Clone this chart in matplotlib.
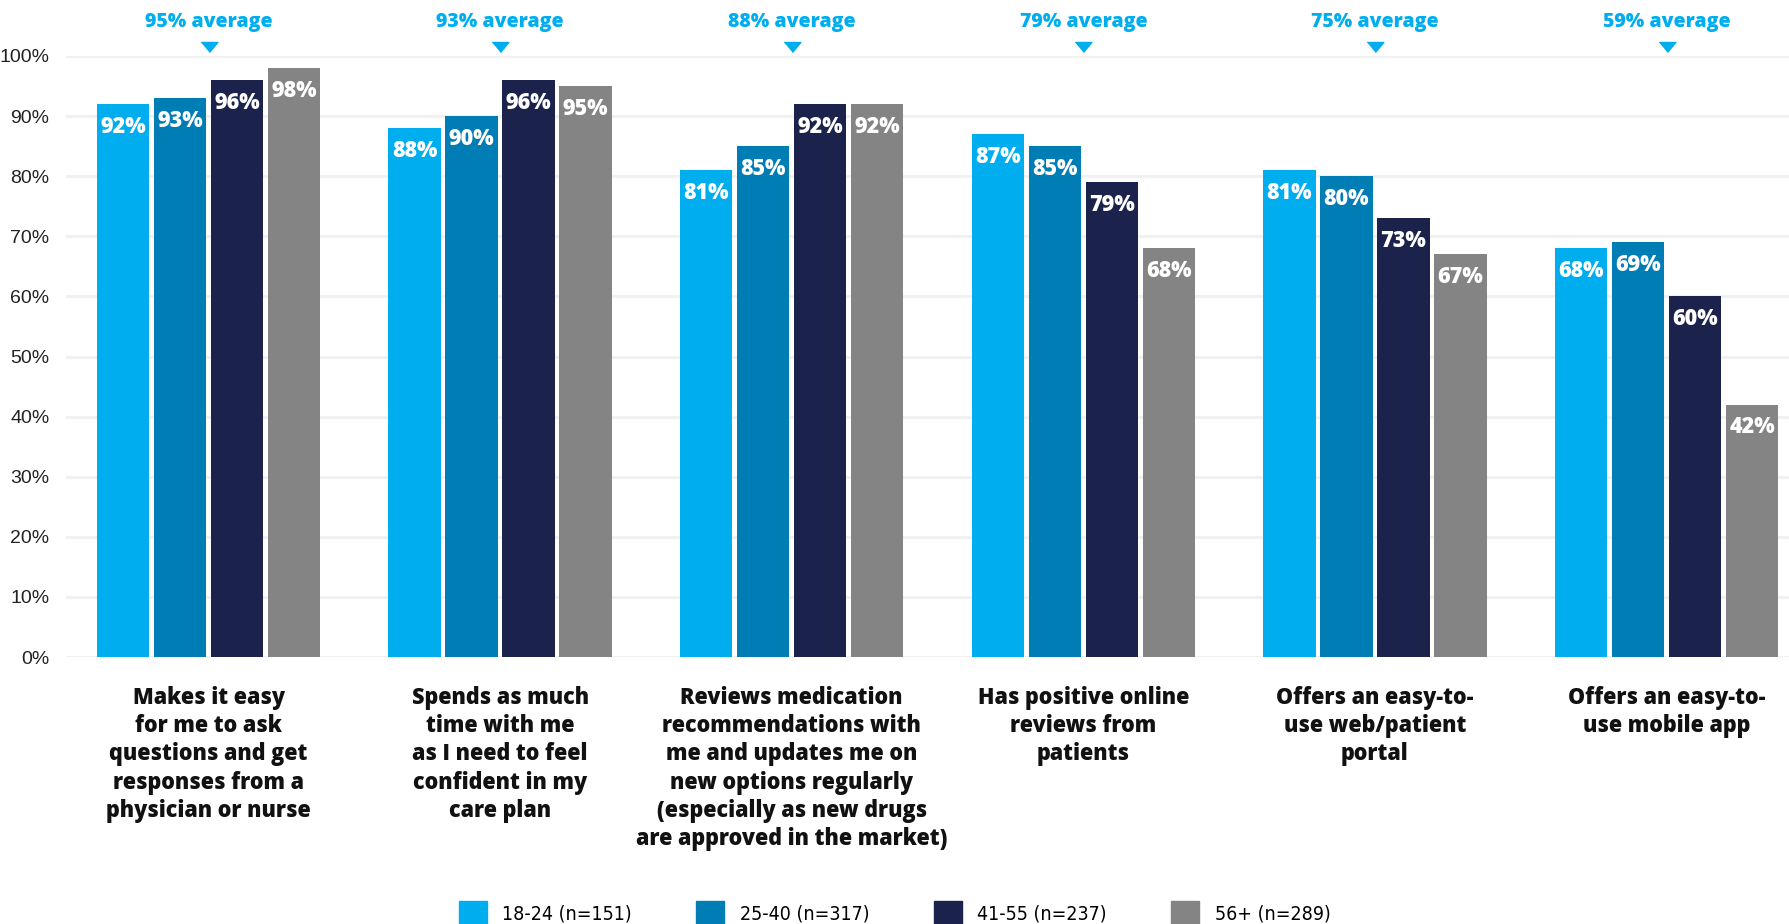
import numpy as np
import matplotlib.pyplot as plt
from matplotlib.patches import Patch

categories = [
    "Makes it easy\nfor me to ask\nquestions and get\nresponses from a\nphysician or nurse",
    "Spends as much\ntime with me\nas I need to feel\nconfident in my\ncare plan",
    "Reviews medication\nrecommendations with\nme and updates me on\nnew options regularly\n(especially as new drugs\nare approved in the market)",
    "Has positive online\nreviews from\npatients",
    "Offers an easy-to-\nuse web/patient\nportal",
    "Offers an easy-to-\nuse mobile app",
]
groups = ["18-24 (n=151)", "25-40 (n=317)", "41-55 (n=237)", "56+ (n=289)"]
age_18_24 = [92, 88, 81, 87, 81, 68]
age_25_40 = [93, 90, 85, 85, 80, 69]
age_41_55 = [96, 96, 92, 79, 73, 60]
age_56_up = [98, 95, 92, 68, 67, 42]
averages = [95, 93, 88, 79, 75, 59]

colors = ["#00AEEF", "#007DB5", "#1B224C", "#848484"]
bold_font = "Open Sans"

fig = plt.figure(figsize=(17.89, 9.24), dpi=100)
ax = fig.add_axes([66 / 1789, 1 - 657 / 924, 1 - 66 / 1789, (657 - 56) / 924])

x = np.arange(len(categories))
pitch = 0.1955
width = 0.18
series = [age_18_24, age_25_40, age_41_55, age_56_up]
for i, vals in enumerate(series):
    pos = x + (i - 1.5) * pitch
    bars = ax.bar(pos, vals, width, color=colors[i], zorder=2)
    for b, v in zip(bars, vals):
        ax.annotate(f"{v}%", (b.get_x() + b.get_width() / 2, v),
                    xytext=(0, -16.5), textcoords="offset points",
                    ha="center", va="center", color="white",
                    fontsize=15.5, fontweight="heavy", family=bold_font)

# average markers above each group
for xi, avg in zip(x, averages):
    ax.plot(xi, 101.5, marker=[(-1, 0.6), (1, 0.6), (0, -0.6)], ms=12,
            color="#00AEEF", clip_on=False, zorder=3)
    ax.text(xi, 105.7, f"{avg}% average", ha="center", va="center",
            color="#00AEEF", fontsize=14, fontweight="heavy", family=bold_font,
            clip_on=False)

ax.set_xlim(-0.4887, 5.42)
ax.set_ylim(0, 100)
ax.set_yticks(range(0, 101, 10))
ax.set_yticklabels([f"{t}%" for t in range(0, 101, 10)],
                   fontsize=14, family="Liberation Sans", color="#222222")
ax.yaxis.grid(True, color="#F1F1F1", linewidth=2.2, zorder=0)
ax.set_axisbelow(True)
ax.tick_params(axis="y", length=0, pad=12)
ax.tick_params(axis="x", length=0, pad=21)
ax.set_xticks(x)
ax.set_xticklabels(categories, fontsize=15.5, fontweight="heavy", family=bold_font,
                   linespacing=1.23, va="top", color="#111111")
for s in ax.spines.values():
    s.set_visible(False)

handles = [Patch(color=c) for c in colors]
fig.legend(handles, groups, loc="center", bbox_to_anchor=(0.5, 0.0 + 11 / 924),
           ncol=4, frameon=False, handlelength=1.45, handleheight=1.6,
           handletextpad=0.8, columnspacing=3.3,
           prop={"family": "DejaVu Sans", "stretch": "condensed", "size": 14})

fig.savefig("out.png", dpi=100)
